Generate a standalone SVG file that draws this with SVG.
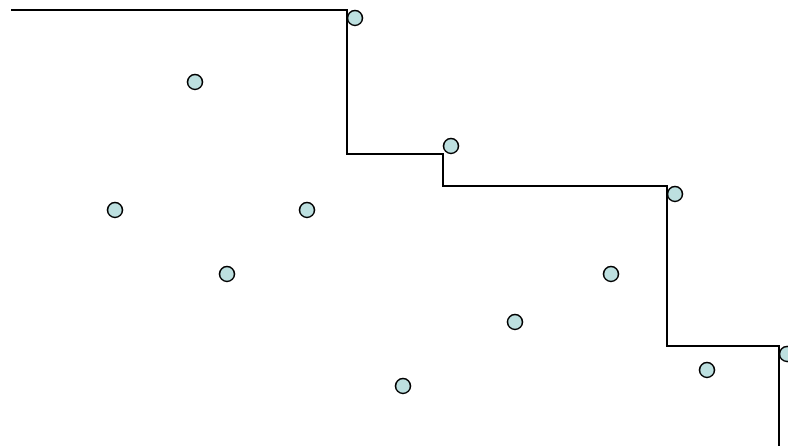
<svg xmlns="http://www.w3.org/2000/svg" width="788" height="446" viewBox="0 0 788 446">
<style>
.pt{fill:#bde0e0;stroke:#000;stroke-width:1.6}
.ln{fill:none;stroke:#000;stroke-width:2}
</style>
<rect width="788" height="446" fill="#fff"/>
<g id="connectors">
<path class="ln" d="M11,10 H347 V154 H443 V186 H667 V346 H779 V446"/>
</g>
<g id="p1"><circle class="pt" cx="355" cy="18" r="7.5"/></g>
<g id="p2"><circle class="pt" cx="195" cy="82" r="7.5"/></g>
<g id="p3"><circle class="pt" cx="451" cy="146" r="7.5"/></g>
<g id="p4"><circle class="pt" cx="675" cy="194" r="7.5"/></g>
<g id="p5"><circle class="pt" cx="115" cy="210" r="7.5"/></g>
<g id="p6"><circle class="pt" cx="307" cy="210" r="7.5"/></g>
<g id="p7"><circle class="pt" cx="227" cy="274" r="7.5"/></g>
<g id="p8"><circle class="pt" cx="611" cy="274" r="7.5"/></g>
<g id="p9"><circle class="pt" cx="515" cy="322" r="7.5"/></g>
<g id="p10"><circle class="pt" cx="787" cy="354" r="7.5"/></g>
<g id="p11"><circle class="pt" cx="707" cy="370" r="7.5"/></g>
<g id="p12"><circle class="pt" cx="403" cy="386" r="7.5"/></g>
</svg>
